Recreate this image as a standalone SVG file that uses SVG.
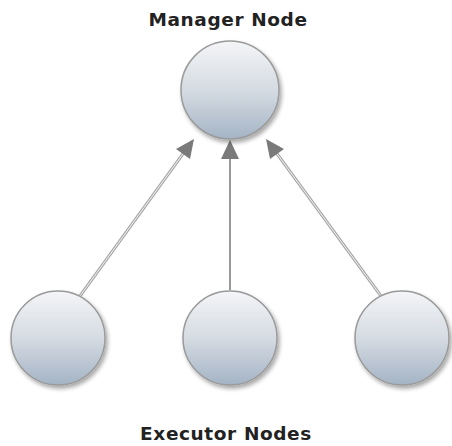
<svg xmlns="http://www.w3.org/2000/svg" width="452" height="446" viewBox="0 0 452 446">
<defs>
<linearGradient id="g" x1="0" y1="0" x2="0" y2="1">
<stop offset="0" stop-color="#f4f5f7"/>
<stop offset="0.5" stop-color="#d5dbe2"/>
<stop offset="1" stop-color="#a4b4c5"/>
</linearGradient>
<filter id="sh" x="-20%" y="-20%" width="150%" height="150%">
<feGaussianBlur in="SourceAlpha" stdDeviation="2"/>
<feOffset dx="2" dy="3"/>
<feComponentTransfer><feFuncA type="linear" slope="0.35"/></feComponentTransfer>
<feMerge><feMergeNode/><feMergeNode in="SourceGraphic"/></feMerge>
</filter>
</defs>
<style>
.node{fill:url(#g);stroke:#9a9a9a;stroke-width:1.5;filter:url(#sh)}
.lbl{font-family:"DejaVu Sans",sans-serif;font-weight:bold;font-size:18.5px;fill:#222;text-anchor:middle;letter-spacing:0.6px}
.edge{stroke:#a8a8a8;stroke-width:3;fill:none}
.inner{stroke:#f4f4f4;stroke-width:1;fill:none}
.head{fill:#7a7a7a}
</style>
<g id="connectors">
<line class="edge" x1="80" y1="296" x2="185" y2="151"/>
<line class="inner" x1="80" y1="296" x2="185" y2="151"/>
<polygon class="head" points="194,139 176,149 190,159"/>
<line class="edge" x1="230" y1="290" x2="230" y2="156" style="stroke:#999;stroke-width:2"/>
<polygon class="head" points="230,140 221,159 239,159"/>
<line class="edge" x1="381" y1="296" x2="275" y2="151"/>
<line class="inner" x1="381" y1="296" x2="275" y2="151"/>
<polygon class="head" points="266,139 270,159 284,149"/>
</g>
<g id="manager">
<circle class="node" cx="230" cy="90" r="49"/>
<text class="lbl" x="228" y="26">Manager Node</text>
</g>
<g id="executor1">
<circle class="node" cx="58" cy="338" r="47"/>
</g>
<g id="executor2">
<circle class="node" cx="230" cy="338" r="47"/>
</g>
<g id="executor3">
<circle class="node" cx="402" cy="338" r="47"/>
</g>
<text class="lbl" x="226" y="440">Executor Nodes</text>
</svg>
